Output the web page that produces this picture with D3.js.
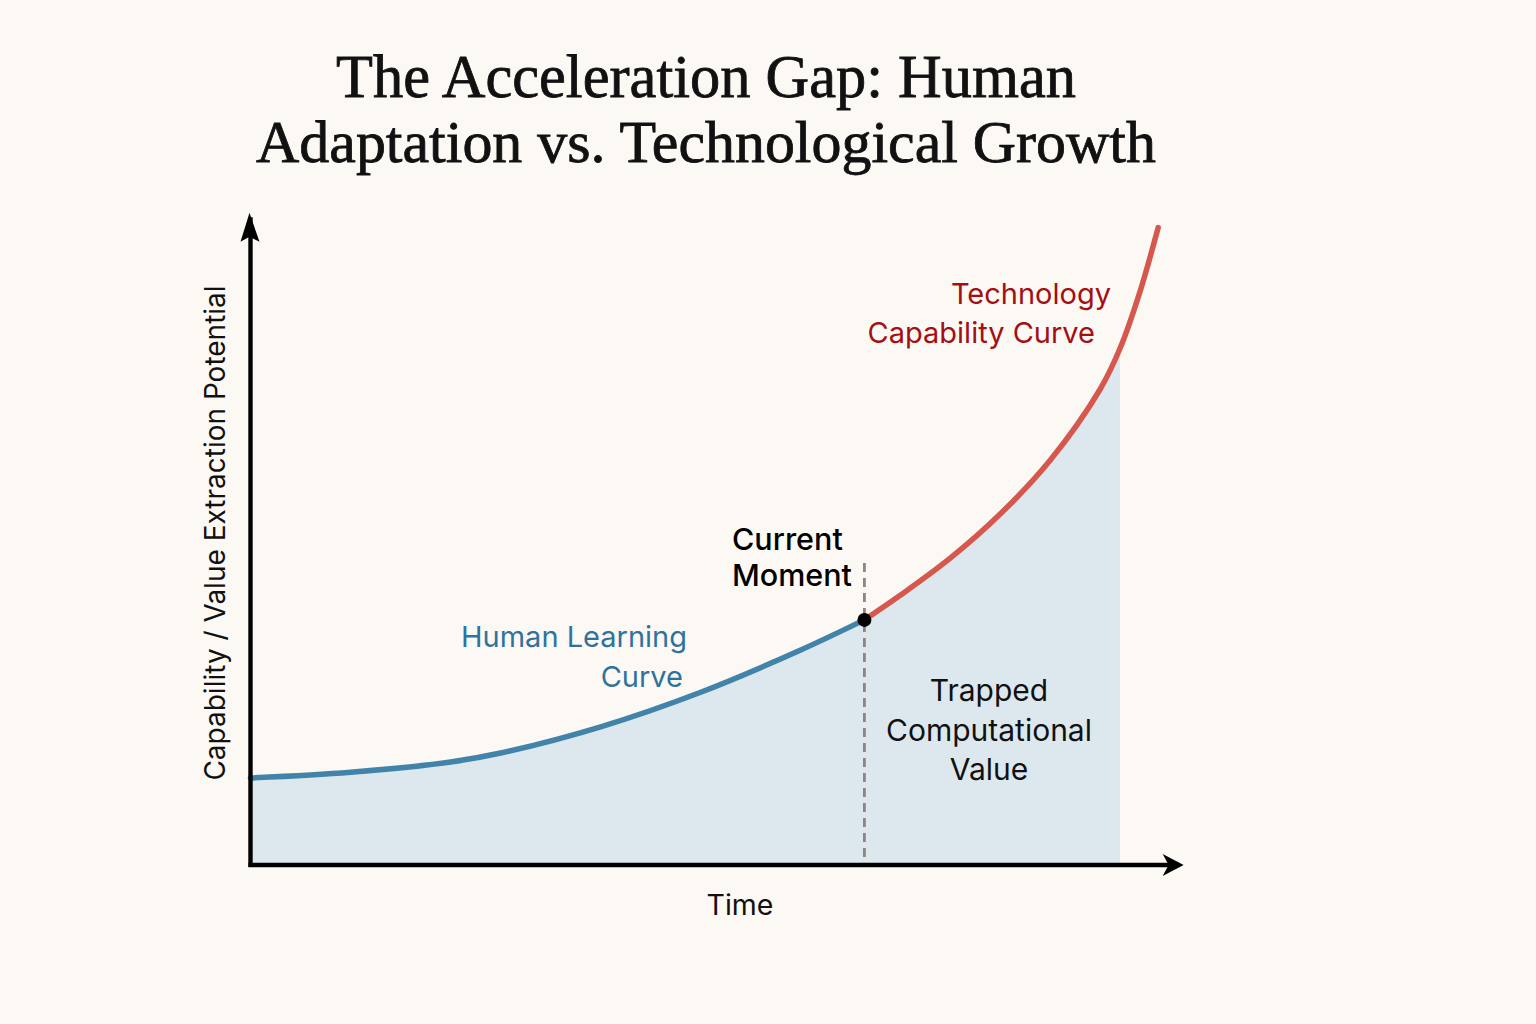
<!DOCTYPE html>
<html><head><meta charset="utf-8">
<script src="https://cdn.jsdelivr.net/npm/d3@7"></script>
<style>
html,body{margin:0;padding:0;background:#fcf9f5;}
svg{display:block;}
</style></head>
<body>
<svg id="chart" width="1536" height="1024"></svg>
<script>
// ---- data ----
const titleLines = ["The Acceleration Gap: Human", "Adaptation vs. Technological Growth"];
const humanTime  = [0, 11, 22, 27.5, 38.5, 49.5, 60.5, 67.5];
const humanValue = [13.6, 14.5, 16.1, 17.5, 21.6, 27.0, 33.6, 38.3];
const techTime   = [67.5, 71.4, 76.9, 82.4, 87.9, 93.4, 95.6, 97.8, 99.8];
const techValue  = [38.3, 42.1, 47.9, 54.8, 63.2, 74.3, 80.7, 89.6, 99.6];
const currentMoment = 67.5;
const fillEnd = 95.6;
const xLabel = "Time";
const yLabel = "Capability / Value Extraction Potential";
const humanLabel = ["Human Learning", "Curve"];
const techLabel = ["Technology", "Capability Curve"];
const momentLabel = ["Current", "Moment"];
const gapLabel = ["Trapped", "Computational", "Value"];

const svg = d3.select("#chart");
svg.append("rect").attr("width",1536).attr("height",1024).attr("fill","#fcf9f5");

const x = d3.scaleLinear().domain([0,100]).range([250.5,1160]);
const y = d3.scaleLinear().domain([0,100]).range([865,225]);

const human = humanTime.map((t,i)=>({t, v:humanValue[i]}));
const tech = techTime.map((t,i)=>({t, v:techValue[i]}));
const all = human.concat(tech.slice(1));
const fillPts = all.filter(d=>d.t<=fillEnd);

const sans = "Inter, 'Noto Sans', Roboto, sans-serif";
const curve = d3.curveCatmullRom.alpha(0.5);

// area
const area = d3.area().x(d=>x(d.t)).y0(y(0)-2).y1(d=>y(d.v)).curve(curve);
svg.append("path").datum(fillPts).attr("d",area).attr("fill","#dde8ee");

// dashed line
svg.append("line").attr("x1",x(currentMoment)).attr("x2",x(currentMoment))
  .attr("y1",563).attr("y2",y(0)-3)
  .attr("stroke","#8c8584").attr("stroke-width",2.8).attr("stroke-dasharray","9,6");

// curves (drawn as one continuous path split by colour)
const line = d3.line().x(d=>x(d.t)).y(d=>y(d.v)).curve(curve);
svg.append("path").datum(human).attr("d",line).attr("fill","none")
  .attr("stroke","#4283aa").attr("stroke-width",5.5).attr("stroke-linecap","round");
svg.append("path").datum(tech).attr("d",line).attr("fill","none")
  .attr("stroke","#d6574d").attr("stroke-width",5.5).attr("stroke-linecap","round");

// dot
svg.append("circle").attr("cx",x(currentMoment)).attr("cy",y(38.3)).attr("r",7).attr("fill","#000");

// axes
const x0 = x(0), yb = y(0);
svg.append("line").attr("x1",x0).attr("x2",x0).attr("y1",y(0)+2).attr("y2",y(101.2))
  .attr("stroke","#000").attr("stroke-width",4.4);
svg.append("line").attr("x1",x0-2).attr("x2",x(102))
  .attr("y1",yb).attr("y2",yb).attr("stroke","#000").attr("stroke-width",4.4);
const xt = x(102.6);
svg.append("path").attr("d",`M${xt},${yb} L${xt-21},${yb-11} L${xt-15},${yb} L${xt-21},${yb+11} Z`).attr("fill","#000");
const yt = y(101.9);
svg.append("path").attr("d",`M${x0-1},${yt} L${x0-10},${yt+29} L${x0-1},${yt+24} L${x0+9},${yt+29} Z`).attr("fill","#000");

// title
const title = svg.append("g");
titleLines.forEach((s,i)=>{
  title.append("text").attr("x",706).attr("y",97+i*65).attr("text-anchor","middle")
    .attr("font-family","'Liberation Serif','DejaVu Serif',serif").attr("font-size",58)
    .attr("fill","#111").attr("stroke","#111").attr("stroke-width",0.8).text(s);
});
const targets=[740,900];
title.selectAll("text").each(function(d,i){
  const w=this.getComputedTextLength();
  const fs=58*targets[i]/w;
  d3.select(this).attr("font-size",Math.min(fs,64));
});

// labels
function txt(s, xp, yp, anchor, color, size, weight){
  svg.append("text").attr("x",xp).attr("y",yp).attr("text-anchor",anchor)
    .attr("font-family",sans).attr("font-size",size).attr("font-weight",weight||400)
    .attr("fill",color).text(s);
}
txt(humanLabel[0], 687, 647, "end", "#2f739d", 29);
txt(humanLabel[1], 683, 687, "end", "#2f739d", 29);
txt(techLabel[0], 1111, 304, "end", "#a30f12", 29);
txt(techLabel[1], 1095, 343, "end", "#a30f12", 29);
txt(momentLabel[0], 732, 550, "start", "#000", 30.5, 500);
txt(momentLabel[1], 732, 586, "start", "#000", 30.5, 500);
gapLabel.forEach((s,i)=>txt(s, 989, 701+i*39.5, "middle", "#111", 30));

txt(xLabel, 740, 915, "middle", "#111", 28.5);
svg.append("text").attr("transform","translate(225,533) rotate(-90)").attr("text-anchor","middle")
  .attr("font-family",sans).attr("font-size",28).attr("fill","#111").text(yLabel);
</script>
</body></html>
